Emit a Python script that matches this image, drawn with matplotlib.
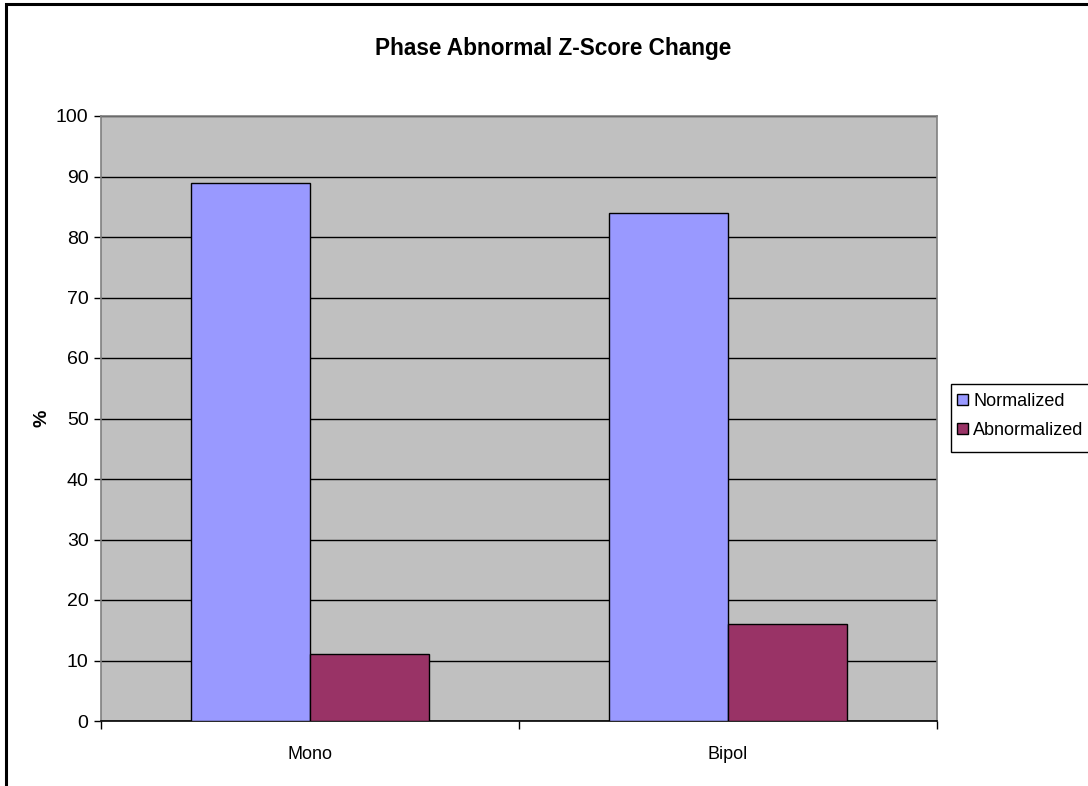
import matplotlib
matplotlib.use("Agg")
import matplotlib.pyplot as plt
from matplotlib.patches import Rectangle
import numpy as np

plt.rcParams['font.family'] = ['Liberation Sans', 'DejaVu Sans']

categories = ["Mono", "Bipol"]
series_names = ["Normalized", "Abnormalized"]
normalized = [89, 84]
abnormalized = [11, 16]
y_ticks = [0, 10, 20, 30, 40, 50, 60, 70, 80, 90, 100]

colors = ["#9999FF", "#993366"]

W, H = 1088, 786
fig = plt.figure(figsize=(W / 100, H / 100), dpi=100)
fig.patch.set_facecolor("white")

# outer chart-area frame (left and top edges visible)
fig.add_artist(Rectangle((6 / W, -0.05), 1.2, 1 - 4 / H + 0.05, transform=fig.transFigure,
                         fill=False, edgecolor="black", linewidth=2.2, zorder=0))

ax_left, ax_right, ax_top, ax_bottom = 101, 937, 116, 721
ax = fig.add_axes([ax_left / W, 1 - ax_bottom / H, (ax_right - ax_left) / W, (ax_bottom - ax_top) / H])
ax.set_facecolor("#C0C0C0")

x = np.arange(len(categories))
bw = 0.285
b1 = ax.bar(x - bw / 2, normalized, bw, color=colors[0], edgecolor="black", linewidth=1.0,
            label=series_names[0], zorder=3)
b2 = ax.bar(x + bw / 2, abnormalized, bw, color=colors[1], edgecolor="black", linewidth=1.0,
            label=series_names[1], zorder=3)

ax.set_xlim(-0.5, len(categories) - 0.5)
ax.set_ylim(0, 100)
ax.set_yticks(y_ticks)
ax.yaxis.grid(True, color="black", linewidth=1.0, zorder=1)
ax.set_axisbelow(True)

# category boundary ticks on x axis, labels at centers
ax.set_xticks(np.arange(-0.5, len(categories), 1.0))
ax.set_xticklabels([])
ax.set_xticks(x, minor=True)
ax.set_xticklabels(categories, minor=True, fontsize=13)
ax.tick_params(axis="x", which="major", direction="out", length=6, width=1, color="black")
ax.tick_params(axis="x", which="minor", length=0, pad=18)
ax.tick_params(axis="y", direction="out", length=5, width=1, color="black", labelsize=14, pad=4)

for s in ["top", "right", "left"]:
    ax.spines[s].set_color("#808080")
    ax.spines[s].set_linewidth(1.2)
ax.spines["bottom"].set_color("black")
ax.spines["bottom"].set_linewidth(1.2)

ax.set_ylabel("%", fontsize=14, fontweight="bold")
ax.yaxis.set_label_coords((51 - ax_left) / (ax_right - ax_left), 0.5)

fig.text(553 / W, 1 - 48 / H, "Phase Abnormal Z-Score Change", ha="center", va="center",
         fontsize=16.3, fontweight="bold")

# legend box
fig.add_artist(Rectangle((951 / W, 1 - 452 / H), 0.2, (452 - 384) / H, transform=fig.transFigure,
                         facecolor="white", edgecolor="black", linewidth=1.0, zorder=4))
leg = fig.legend(handles=[b1, b2], labels=series_names, loc="center left",
                 bbox_to_anchor=(957 / W, 1 - 416 / H), frameon=False, fontsize=13,
                 handlelength=0.6, handleheight=0.6, handletextpad=0.3, labelspacing=0.65,
                 borderpad=0.0, borderaxespad=0.0)
leg.set_zorder(5)

fig.savefig("out.png", dpi=100)
